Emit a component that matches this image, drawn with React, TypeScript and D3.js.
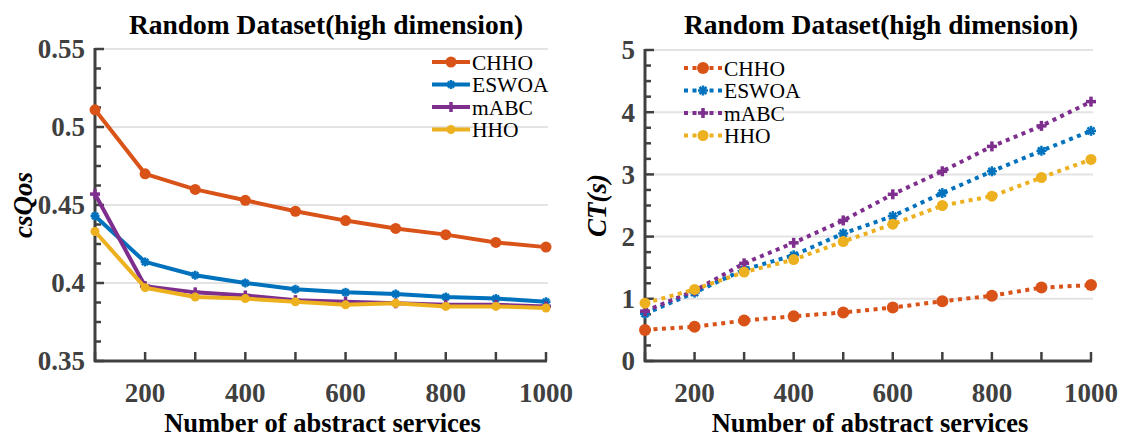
import React, { useEffect, useRef } from "react";
import * as d3 from "d3";

const services = [100, 200, 300, 400, 500, 600, 700, 800, 900, 1000];
const seriesNames = ["CHHO", "ESWOA", "mABC", "HHO"];
const colors = ["#D95319", "#0072BD", "#7E2F8E", "#EDB120"];

const qosCHHO = [0.511, 0.47, 0.46, 0.453, 0.446, 0.44, 0.435, 0.431, 0.426, 0.423];
const qosESWOA = [0.443, 0.4135, 0.405, 0.4, 0.396, 0.394, 0.393, 0.391, 0.39, 0.388];
const qosMABC = [0.457, 0.398, 0.394, 0.392, 0.389, 0.388, 0.387, 0.386, 0.386, 0.385];
const qosHHO = [0.433, 0.397, 0.391, 0.39, 0.388, 0.386, 0.387, 0.385, 0.385, 0.384];

const ctCHHO = [0.5, 0.55, 0.65, 0.72, 0.78, 0.86, 0.96, 1.05, 1.18, 1.22];
const ctESWOA = [0.76, 1.1, 1.47, 1.7, 2.05, 2.33, 2.7, 3.05, 3.38, 3.7];
const ctMABC = [0.8, 1.13, 1.57, 1.9, 2.26, 2.68, 3.05, 3.45, 3.78, 4.17];
const ctHHO = [0.93, 1.15, 1.43, 1.63, 1.92, 2.2, 2.5, 2.65, 2.95, 3.24];

const qosTicks = [0.35, 0.4, 0.45, 0.5, 0.55];
const ctTicks = [0, 1, 2, 3, 4, 5];
const xTickLabels = [200, 400, 600, 800, 1000];
const titleText = "Random Dataset(high dimension)";
const xLabel = "Number of abstract services";

const FONT = "'Liberation Serif', 'Times New Roman', serif";
const AXIS = "#404040";

function drawMarker(g: any, type: string, x: number, y: number, color: string, big: boolean) {
  if (type === "CHHO") {
    g.append("circle").attr("cx", x).attr("cy", y).attr("r", big ? 6 : 5.5).attr("fill", color);
  } else if (type === "HHO") {
    g.append("circle").attr("cx", x).attr("cy", y).attr("r", big ? 5.5 : 4.5).attr("fill", color);
  } else if (type === "ESWOA") {
    const s = big ? 5 : 4.5;
    const p = g.append("g").attr("stroke", color).attr("stroke-width", 2.5);
    p.append("line").attr("x1", x - s).attr("x2", x + s).attr("y1", y).attr("y2", y);
    p.append("line").attr("x1", x).attr("x2", x).attr("y1", y - s).attr("y2", y + s);
    p.append("line").attr("x1", x - s * 0.7).attr("x2", x + s * 0.7).attr("y1", y - s * 0.7).attr("y2", y + s * 0.7);
    p.append("line").attr("x1", x - s * 0.7).attr("x2", x + s * 0.7).attr("y1", y + s * 0.7).attr("y2", y - s * 0.7);
  } else {
    const s = 5;
    const p = g.append("g").attr("stroke", color).attr("stroke-width", 3.5);
    p.append("line").attr("x1", x - s).attr("x2", x + s).attr("y1", y).attr("y2", y);
    p.append("line").attr("x1", x).attr("x2", x).attr("y1", y - s).attr("y2", y + s);
  }
}

function drawPanel(
  svg: any,
  opts: {
    x0: number; x1: number; yTop: number; yBot: number;
    domain: [number, number]; ticks: number[]; minorStep: number;
    fmt: (v: number) => string; data: number[][]; dotted: boolean;
    ylabel: string; ylabelX: number; legendX: number; legendY: number;
    titleX: number;
  }
) {
  const x = d3.scaleLinear().domain([100, 1000]).range([opts.x0, opts.x1]);
  const y = d3.scaleLinear().domain(opts.domain).range([opts.yBot, opts.yTop]);
  const g = svg.append("g");

  // grid
  opts.ticks.forEach((t) => {
    if (t === opts.domain[0]) return;
    g.append("line").attr("x1", opts.x0).attr("x2", opts.x1 + 2).attr("y1", y(t)).attr("y2", y(t))
      .attr("stroke", "#e3e3e3").attr("stroke-width", 2);
  });

  // axes
  g.append("line").attr("x1", opts.x0).attr("x2", opts.x0).attr("y1", opts.yTop - 1).attr("y2", opts.yBot + 1)
    .attr("stroke", AXIS).attr("stroke-width", 3);
  g.append("line").attr("x1", opts.x0 - 1).attr("x2", opts.x1 + 1).attr("y1", opts.yBot).attr("y2", opts.yBot)
    .attr("stroke", AXIS).attr("stroke-width", 3);

  // y ticks major + minor
  const nMinor = Math.round((opts.domain[1] - opts.domain[0]) / opts.minorStep);
  for (let i = 0; i <= nMinor; i++) {
    const v = opts.domain[0] + i * opts.minorStep;
    const isMajor = i % 4 === 0;
    g.append("line").attr("x1", opts.x0).attr("x2", opts.x0 + (isMajor ? 9 : 6)).attr("y1", y(v)).attr("y2", y(v))
      .attr("stroke", AXIS).attr("stroke-width", 2.5);
  }
  opts.ticks.forEach((t) => {
    g.append("text").attr("x", opts.x0 - 10).attr("y", y(t)).attr("dy", "0.35em").attr("text-anchor", "end")
      .attr("font-family", FONT).attr("font-weight", "bold").attr("font-size", 27).attr("fill", AXIS)
      .text(opts.fmt(t));
  });

  // x ticks
  services.forEach((s) => {
    g.append("line").attr("x1", x(s)).attr("x2", x(s)).attr("y1", opts.yBot).attr("y2", opts.yBot - 9)
      .attr("stroke", AXIS).attr("stroke-width", 2.5);
  });
  xTickLabels.forEach((s) => {
    g.append("text").attr("x", x(s)).attr("y", 402).attr("text-anchor", "middle")
      .attr("font-family", FONT).attr("font-weight", "bold").attr("font-size", 27).attr("fill", AXIS)
      .text(String(s));
  });

  // x label
  g.append("text").attr("x", (opts.x0 + opts.x1) / 2 + 2).attr("y", 432).attr("text-anchor", "middle")
    .attr("font-family", FONT).attr("font-weight", "bold").attr("font-size", 26.5).attr("fill", "#000")
    .text(xLabel);

  // y label
  g.append("text").attr("transform", `translate(${opts.ylabelX},${(opts.yTop + opts.yBot) / 2}) rotate(-90)`)
    .attr("text-anchor", "middle").attr("font-family", FONT).attr("font-weight", "bold").attr("font-style", "italic")
    .attr("font-size", 27).attr("fill", "#000").text(opts.ylabel);

  // title
  g.append("text").attr("x", opts.titleX).attr("y", 34).attr("text-anchor", "middle")
    .attr("font-family", FONT).attr("font-weight", "bold").attr("font-size", 27.5).attr("fill", "#000")
    .text(titleText);

  // lines
  const line = d3.line<number>().x((_, i) => x(services[i])).y((d) => y(d));
  opts.data.forEach((vals, si) => {
    g.append("path").attr("d", line(vals)).attr("fill", "none").attr("stroke", colors[si])
      .attr("stroke-width", 4)
      .attr("stroke-dasharray", opts.dotted ? "4,4.5" : null)
      .attr("stroke-linejoin", "round");
    vals.forEach((v, i) => drawMarker(g, seriesNames[si], x(services[i]), y(v), colors[si], opts.dotted));
  });

  // legend
  seriesNames.forEach((name, i) => {
    const ly = opts.legendY + i * 22.5;
    g.append("line").attr("x1", opts.legendX).attr("x2", opts.legendX + 38).attr("y1", ly).attr("y2", ly)
      .attr("stroke", colors[i]).attr("stroke-width", 4).attr("stroke-dasharray", opts.dotted ? "4,4.5" : null);
    drawMarker(g, name, opts.legendX + 19, ly, colors[i], opts.dotted);
    g.append("text").attr("x", opts.legendX + 40).attr("y", ly).attr("dy", "0.35em")
      .attr("font-family", FONT).attr("font-size", 21.5).attr("fill", "#000").text(name);
  });
}

export default function App() {
  const ref = useRef<SVGSVGElement>(null);
  useEffect(() => {
    const svg = d3.select(ref.current);
    svg.selectAll("*").remove();
    svg.append("rect").attr("width", 1124).attr("height", 438).attr("fill", "#fff");
    drawPanel(svg, {
      x0: 95, x1: 546, yTop: 49, yBot: 361, domain: [0.35, 0.55], ticks: qosTicks, minorStep: 0.0125,
      fmt: (v) => (Math.round(v * 100) / 100).toString(),
      data: [qosCHHO, qosESWOA, qosMABC, qosHHO], dotted: false,
      ylabel: "csQos", ylabelX: 32, legendX: 432, legendY: 62, titleX: 326,
    });
    drawPanel(svg, {
      x0: 645, x1: 1091, yTop: 50, yBot: 361, domain: [0, 5], ticks: ctTicks, minorStep: 0.25,
      fmt: (v) => String(v),
      data: [ctCHHO, ctESWOA, ctMABC, ctHHO], dotted: true,
      ylabel: "CT(s)", ylabelX: 606, legendX: 684, legendY: 68, titleX: 881,
    });
  }, []);
  return (
    <svg ref={ref} width={1124} height={438} style={{ position: "absolute", left: 0, top: 0, display: "block" }} />
  );
}
